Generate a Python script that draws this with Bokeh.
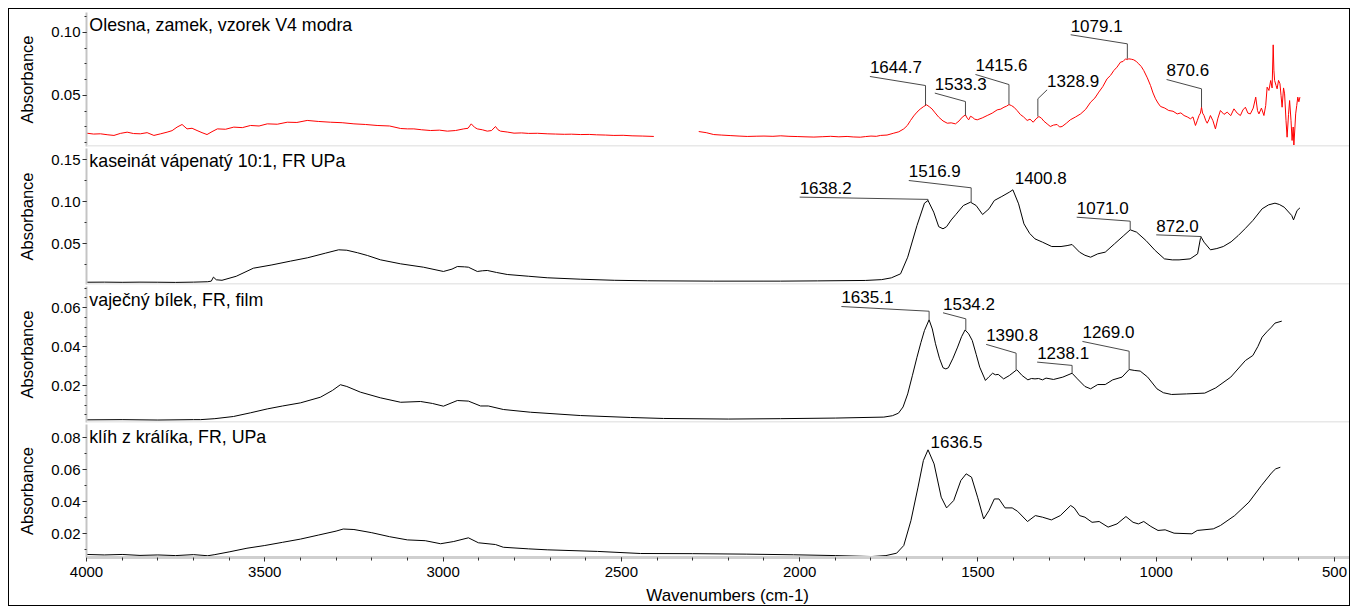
import numpy as np
from bokeh.plotting import figure
from bokeh.layouts import column
from bokeh.models import Range1d, FixedTicker, PrintfTickFormatter, Label, Span
from bokeh.embed import file_html
from bokeh.resources import INLINE

FONT = "Liberation Sans"
NaN = float("nan")

# ---------------- data (wavenumber cm-1, absorbance) ----------------
titles = ["Olesna, zamek, vzorek V4 modra",
          "kaseinát vápenatý 10:1, FR UPa",
          "vaječný bílek, FR, film",
          "klíh z králíka, FR, UPa"]

olesna = [(4000, 0.0201), (3980, 0.0194), (3961, 0.0196), (3940, 0.0188), (3923, 0.0183), (3905, 0.0199),
          (3886, 0.0209), (3868, 0.0198), (3849, 0.0196), (3830, 0.0205), (3811, 0.0183), (3792, 0.0196),
          (3774, 0.0209), (3760, 0.0221), (3746, 0.0249), (3732, 0.0270), (3718, 0.0235), (3704, 0.0240),
          (3690, 0.0222), (3676, 0.0205), (3662, 0.0190), (3648, 0.0213), (3633, 0.0235), (3610, 0.0232),
          (3587, 0.0249), (3563, 0.0245), (3540, 0.0262), (3516, 0.0258), (3493, 0.0275), (3465, 0.0272),
          (3437, 0.0288), (3410, 0.0286), (3381, 0.0302), (3350, 0.0294), (3316, 0.0288), (3283, 0.0284),
          (3250, 0.0275), (3218, 0.0270), (3185, 0.0262), (3150, 0.0258), (3119, 0.0238), (3100, 0.0235),
          (3082, 0.0235), (3060, 0.0228), (3035, 0.0222), (3010, 0.0225), (2988, 0.0217), (2965, 0.0222),
          (2942, 0.0235), (2930, 0.0240), (2921, 0.0275), (2912, 0.0248), (2904, 0.0235), (2890, 0.0228),
          (2876, 0.0217), (2864, 0.0222), (2853, 0.0254), (2846, 0.0228), (2839, 0.0217), (2820, 0.0210),
          (2801, 0.0201), (2780, 0.0203), (2760, 0.0199), (2735, 0.0200), (2708, 0.0196), (2685, 0.0194),
          (2660, 0.0192), (2640, 0.0193), (2614, 0.0190), (2590, 0.0191), (2570, 0.0188), (2545, 0.0186),
          (2521, 0.0183), (2495, 0.0184), (2470, 0.0180), (2440, 0.0178), (2409, 0.0175), (2350, NaN),
          (2283, 0.0214), (2262, 0.0205), (2241, 0.0190), (2220, 0.0186), (2195, 0.0182), (2170, 0.0178),
          (2147, 0.0175), (2120, 0.0177), (2100, 0.0178), (2075, 0.0176), (2053, 0.0180), (2030, 0.0176),
          (2005, 0.0174), (1985, 0.0172), (1960, 0.0170), (1935, 0.0173), (1913, 0.0176), (1890, 0.0172),
          (1867, 0.0175), (1850, 0.0171), (1830, 0.0169), (1815, 0.0174), (1800, 0.0178), (1785, 0.0176),
          (1773, 0.0183), (1755, 0.0186), (1736, 0.0201), (1722, 0.0212), (1708, 0.0235), (1698, 0.0262),
          (1689, 0.0302), (1680, 0.0338), (1671, 0.0368), (1662, 0.0392), (1652, 0.0413), (1644, 0.0426),
          (1636, 0.0410), (1629, 0.0394), (1620, 0.0362), (1610, 0.0328), (1598, 0.0298), (1586, 0.0280),
          (1575, 0.0283), (1563, 0.0275), (1553, 0.0298), (1544, 0.0328), (1535, 0.0346), (1530, 0.0320),
          (1526, 0.0307), (1521, 0.0335), (1516, 0.0328), (1509, 0.0312), (1502, 0.0307), (1488, 0.0322),
          (1474, 0.0341), (1460, 0.0360), (1446, 0.0386), (1436, 0.0392), (1427, 0.0407), (1420, 0.0415),
          (1413, 0.0428), (1406, 0.0420), (1399, 0.0407), (1390, 0.0380), (1381, 0.0349), (1372, 0.0330),
          (1362, 0.0302), (1354, 0.0312), (1345, 0.0288), (1337, 0.0315), (1329, 0.0333), (1322, 0.0320),
          (1315, 0.0296), (1306, 0.0275), (1297, 0.0254), (1288, 0.0265), (1278, 0.0270), (1271, 0.0250),
          (1264, 0.0254), (1252, 0.0280), (1241, 0.0307), (1226, 0.0330), (1212, 0.0354), (1198, 0.0390),
          (1184, 0.0447), (1172, 0.0480), (1161, 0.0527), (1150, 0.0570), (1138, 0.0632), (1128, 0.0660),
          (1119, 0.0698), (1110, 0.0725), (1100, 0.0765), (1093, 0.0770), (1086, 0.0791), (1081, 0.0785),
          (1077, 0.0791), (1070, 0.0788), (1063, 0.0783), (1056, 0.0770), (1049, 0.0751), (1042, 0.0730),
          (1035, 0.0698), (1025, 0.0640), (1016, 0.0579), (1009, 0.0520), (1002, 0.0474), (995, 0.0440),
          (988, 0.0413), (976, 0.0400), (965, 0.0381), (953, 0.0375), (941, 0.0354), (931, 0.0362),
          (922, 0.0341), (913, 0.0330), (904, 0.0315), (897, 0.0330), (890, 0.0262), (885, 0.0300),
          (880, 0.0341), (876, 0.0360), (873, 0.0407), (870, 0.0360), (866, 0.0341), (861, 0.0300),
          (857, 0.0280), (852, 0.0310), (848, 0.0341), (841, 0.0300), (834, 0.0235), (827, 0.0320),
          (820, 0.0381), (810, 0.0350), (801, 0.0368), (791, 0.0340), (782, 0.0394), (773, 0.0360),
          (764, 0.0341), (757, 0.0385), (750, 0.0407), (743, 0.0360), (736, 0.0354), (728, 0.0400),
          (721, 0.0487), (716, 0.0380), (712, 0.0354), (705, 0.0400), (698, 0.0341), (693, 0.0420),
          (689, 0.0566), (684, 0.0540), (679, 0.0619), (675, 0.0560), (672, 0.0902), (670, 0.0700),
          (668, 0.0619), (664, 0.0580), (661, 0.0553), (657, 0.0620), (653, 0.0593), (650, 0.0500),
          (647, 0.0407), (643, 0.0560), (640, 0.0513), (636, 0.0300), (633, 0.0169), (629, 0.0350),
          (626, 0.0460), (622, 0.0300), (619, 0.0143), (616, 0.0250), (614, 0.0103), (611, 0.0250),
          (609, 0.0354), (606, 0.0420), (603, 0.0487), (600, 0.0450), (597, 0.0487)]

kaseinat = [(4000, 0.0039), (3950, 0.0040), (3900, 0.0038), (3850, 0.0040), (3800, 0.0039), (3750, 0.0037),
            (3700, 0.0040), (3660, 0.0045), (3650, 0.0052), (3644, 0.0100), (3636, 0.0068), (3620, 0.0062),
            (3580, 0.0110), (3532, 0.0206), (3480, 0.0245), (3428, 0.0290), (3380, 0.0330), (3330, 0.0385),
            (3293, 0.0425), (3270, 0.0420), (3240, 0.0390), (3212, 0.0357), (3176, 0.0306), (3119, 0.0258),
            (3055, 0.0218), (2999, 0.0167), (2975, 0.0195), (2960, 0.0226), (2940, 0.0222), (2929, 0.0218),
            (2904, 0.0167), (2890, 0.0175), (2876, 0.0179), (2850, 0.0155), (2820, 0.0131), (2760, 0.0110),
            (2708, 0.0092), (2615, 0.0075), (2520, 0.0062), (2427, 0.0056), (2241, 0.0052), (2100, 0.0052),
            (2054, 0.0052), (1950, 0.0055), (1816, 0.0060), (1770, 0.0070), (1743, 0.0091), (1717, 0.0139),
            (1697, 0.0337), (1671, 0.0714), (1650, 0.0980), (1640, 0.1012), (1624, 0.0873), (1610, 0.0700),
            (1598, 0.0675), (1588, 0.0700), (1575, 0.0780), (1562, 0.0845), (1541, 0.0952), (1521, 0.0992),
            (1505, 0.0952), (1487, 0.0845), (1469, 0.0913), (1454, 0.1012), (1433, 0.1060), (1412, 0.1111),
            (1402, 0.1139), (1386, 0.0972), (1371, 0.0734), (1355, 0.0620), (1340, 0.0555), (1319, 0.0516),
            (1293, 0.0464), (1267, 0.0464), (1250, 0.0475), (1236, 0.0488), (1215, 0.0397), (1200, 0.0360),
            (1184, 0.0337), (1164, 0.0377), (1143, 0.0397), (1117, 0.0496), (1091, 0.0595), (1073, 0.0663),
            (1055, 0.0635), (1029, 0.0536), (1003, 0.0417), (977, 0.0317), (955, 0.0305), (936, 0.0305),
            (905, 0.0317), (884, 0.0377), (876, 0.0560), (874, 0.0575), (866, 0.0516), (848, 0.0425),
            (830, 0.0440), (812, 0.0464), (790, 0.0520), (770, 0.0595), (750, 0.0680), (729, 0.0774),
            (703, 0.0913), (685, 0.0960), (667, 0.0980), (655, 0.0965), (641, 0.0932), (620, 0.0833),
            (615, 0.0781), (605, 0.0893), (597, 0.0924)]

bilek = [(4000, 0.0024), (3900, 0.0025), (3800, 0.0023), (3700, 0.0025), (3680, 0.0025), (3640, 0.0030),
         (3588, 0.0041), (3540, 0.0060), (3493, 0.0080), (3450, 0.0095), (3400, 0.0111), (3344, 0.0140),
         (3310, 0.0175), (3288, 0.0204), (3270, 0.0195), (3232, 0.0166), (3176, 0.0137), (3119, 0.0114),
         (3063, 0.0118), (3030, 0.0108), (2999, 0.0094), (2960, 0.0123), (2929, 0.0120), (2895, 0.0095),
         (2873, 0.0095), (2831, 0.0077), (2755, 0.0063), (2615, 0.0046), (2474, 0.0036), (2382, 0.0031),
         (2200, 0.0028), (2054, 0.0030), (1900, 0.0033), (1764, 0.0038), (1740, 0.0045), (1723, 0.0058),
         (1710, 0.0090), (1697, 0.0157), (1684, 0.0250), (1671, 0.0345), (1660, 0.0420), (1650, 0.0482),
         (1637, 0.0537), (1628, 0.0490), (1619, 0.0414), (1608, 0.0340), (1598, 0.0291), (1590, 0.0285),
         (1583, 0.0291), (1570, 0.0340), (1557, 0.0397), (1546, 0.0450), (1536, 0.0485), (1526, 0.0465),
         (1516, 0.0431), (1505, 0.0360), (1495, 0.0294), (1479, 0.0226), (1469, 0.0245), (1459, 0.0263),
         (1451, 0.0255), (1443, 0.0257), (1428, 0.0234), (1412, 0.0251), (1391, 0.0281), (1376, 0.0251),
         (1360, 0.0229), (1350, 0.0236), (1340, 0.0234), (1330, 0.0236), (1319, 0.0229), (1309, 0.0238),
         (1288, 0.0231), (1262, 0.0243), (1236, 0.0263), (1221, 0.0234), (1200, 0.0195), (1184, 0.0183),
         (1164, 0.0205), (1143, 0.0205), (1122, 0.0229), (1096, 0.0243), (1076, 0.0282), (1060, 0.0277),
         (1045, 0.0274), (1024, 0.0243), (998, 0.0183), (980, 0.0163), (957, 0.0154), (915, 0.0157),
         (864, 0.0161), (833, 0.0188), (791, 0.0243), (750, 0.0328), (729, 0.0354), (715, 0.0400),
         (703, 0.0448), (690, 0.0475), (677, 0.0499), (667, 0.0520), (648, 0.0530)]

klih = [(4000, 0.0069), (3950, 0.0066), (3900, 0.0069), (3850, 0.0063), (3800, 0.0066), (3750, 0.0062),
        (3700, 0.0068), (3660, 0.0061), (3640, 0.0068), (3600, 0.0085), (3550, 0.0108), (3500, 0.0125),
        (3450, 0.0145), (3400, 0.0165), (3350, 0.0190), (3300, 0.0215), (3280, 0.0228), (3250, 0.0225),
        (3200, 0.0205), (3150, 0.0180), (3100, 0.0160), (3050, 0.0155), (3007, 0.0136), (2970, 0.0150),
        (2929, 0.0173), (2901, 0.0142), (2853, 0.0131), (2831, 0.0114), (2760, 0.0104), (2708, 0.0098),
        (2567, 0.0088), (2446, 0.0075), (2300, 0.0074), (2150, 0.0071), (2017, 0.0067), (1900, 0.0062),
        (1798, 0.0056), (1758, 0.0062), (1728, 0.0077), (1708, 0.0125), (1688, 0.0280), (1668, 0.0490),
        (1653, 0.0656), (1640, 0.0723), (1623, 0.0635), (1603, 0.0427), (1588, 0.0360), (1568, 0.0406),
        (1548, 0.0531), (1533, 0.0573), (1518, 0.0552), (1501, 0.0427), (1484, 0.0291), (1469, 0.0344),
        (1454, 0.0416), (1441, 0.0416), (1424, 0.0360), (1404, 0.0360), (1389, 0.0339), (1361, 0.0275),
        (1339, 0.0312), (1319, 0.0302), (1294, 0.0285), (1269, 0.0312), (1240, 0.0375), (1230, 0.0360),
        (1215, 0.0312), (1200, 0.0302), (1180, 0.0270), (1160, 0.0275), (1135, 0.0240), (1110, 0.0260),
        (1085, 0.0306), (1065, 0.0270), (1050, 0.0260), (1035, 0.0275), (1015, 0.0244), (995, 0.0219),
        (975, 0.0223), (950, 0.0202), (900, 0.0198), (885, 0.0219), (840, 0.0229), (820, 0.0250),
        (780, 0.0312), (740, 0.0396), (705, 0.0500), (675, 0.0583), (665, 0.0604), (652, 0.0614)]

# peak labels: (text, peak wavenumber, peak absorbance)
peaks_olesna = [("1644.7", 1647, 0.0421), ("1533.3", 1535, 0.0341), ("1415.6", 1413, 0.0429),
                ("1328.9", 1332, 0.0333), ("1079.1", 1081, 0.0791), ("870.6", 873, 0.0407)]
peaks_kaseinat = [("1638.2", 1640, 0.1005), ("1516.9", 1519, 0.0992), ("1400.8", 1402, 0.1139),
                  ("1071.0", 1073, 0.0663), ("872.0", 874, 0.0575)]
peaks_bilek = [("1635.1", 1637, 0.0537), ("1534.2", 1534, 0.0485), ("1390.8", 1393, 0.0281),
               ("1238.1", 1236, 0.0263), ("1269.0", 1076, 0.0282)]
peaks_klih = [("1636.5", 1640, 0.0723)]

x_ticks = [4000, 3500, 3000, 2500, 2000, 1500, 1000, 500]
x_title = "Wavenumbers (cm-1)"
y_title = "Absorbance"

# ---------------- label placement (text-left wn, text baseline, elbow) ----------------
lab_olesna = [(1803, 0.0651, 0.0579), (1621, 0.0519, 0.0452), (1507, 0.0667, 0.0587),
              (1306, 0.0545, 0.0474), (1240, 0.0982, 0.0910), (971, 0.0627, 0.0553)]
lab_kaseinat = [(2000, 0.1052, 0.1025), (1694, 0.1250, 0.1163), (1397, 0.1171, None),
                (1223, 0.0813, 0.0766), (1000, 0.0603, 0.0583)]
lab_bilek = [(1883, 0.0605, 0.0581), (1598, 0.0573, 0.0542), (1477, 0.0411, 0.0366),
             (1334, 0.0320, 0.0303), (1207, 0.0426, 0.0376)]
lab_klih = [(1633, 0.0713, None)]

x_range = Range1d(4000, 458)

panels = [
    dict(title=titles[0], data=olesna, color="#ff0000", yr=(0.00952, 0.11587), px=1260.0,
         ticks=[0.05, 0.10], minor=[0.0125 * k for k in range(1, 10)],
         peaks=peaks_olesna, labs=lab_olesna, h=138, top=3, bot=1),
    dict(title=titles[1], data=kaseinat, color="#000000", yr=(0.00119, 0.16310), px=840.0,
         ticks=[0.05, 0.10, 0.15], minor=[0.025 * k for k in range(1, 7)],
         peaks=peaks_kaseinat, labs=lab_kaseinat, h=138, top=1, bot=1),
    dict(title=titles[2], data=bilek, color="#000000", yr=(0.00103, 0.07077), px=1950.0,
         ticks=[0.02, 0.04, 0.06], minor=[0.005 * k for k in range(1, 15)],
         peaks=peaks_bilek, labs=lab_bilek, h=138, top=1, bot=1),
    dict(title=titles[3], data=klih, color="#000000", yr=(0.005, 0.08813), px=1600.0,
         ticks=[0.02, 0.04, 0.06, 0.08], minor=[0.01 * k for k in range(1, 9)],
         peaks=peaks_klih, labs=lab_klih, h=161, top=1, bot=27),
]

figs = []
for i, cfg in enumerate(panels):
    last = i == len(panels) - 1
    p = figure(width=1340, height=cfg["h"], x_range=x_range, y_range=Range1d(*cfg["yr"]),
               output_backend="svg", toolbar_location=None,
               min_border_left=77, min_border_right=0,
               min_border_top=cfg["top"], min_border_bottom=cfg["bot"],
               outline_line_color=None, background_fill_color="white", border_fill_color="white")
    p.grid.visible = False

    wn = np.array([d[0] for d in cfg["data"]], dtype=float)
    ab = np.array([d[1] for d in cfg["data"]], dtype=float)
    p.line(wn, ab, line_color=cfg["color"], line_width=1)

    # y axis
    ya = p.yaxis[0]
    ya.ticker = FixedTicker(ticks=cfg["ticks"], minor_ticks=cfg["minor"])
    ya.formatter = PrintfTickFormatter(format="%.2f")
    ya.axis_label = y_title
    ya.axis_label_text_font = FONT
    ya.axis_label_text_font_size = "16.5px"
    ya.axis_label_text_font_style = "normal"
    ya.axis_label_text_color = "#000000"
    ya.axis_label_standoff = 12
    ya.major_label_text_font = FONT
    ya.major_label_text_font_size = "15px"
    ya.major_label_text_color = "#000000"
    ya.major_label_standoff = 2
    ya.major_tick_out = 4
    ya.major_tick_in = 0
    ya.minor_tick_out = 2
    ya.minor_tick_in = 0
    ya.major_tick_line_color = "#303030"
    ya.minor_tick_line_color = "#303030"
    ya.axis_line_color = "#c4c4c4"
    ya.axis_line_width = 2

    xa = p.xaxis[0]
    if last:
        xa.ticker = FixedTicker(ticks=x_ticks, minor_ticks=list(range(500, 4001, 100)))
        xa.major_label_text_font = FONT
        xa.major_label_text_font_size = "15px"
        xa.major_label_text_color = "#000000"
        xa.major_label_standoff = 5
        xa.major_tick_out = 4
        xa.major_tick_in = 0
        xa.minor_tick_out = 3
        xa.minor_tick_in = 0
        xa.major_tick_line_color = "#303030"
        xa.minor_tick_line_color = "#303030"
        xa.axis_line_color = "#cfcfcf"
        xa.axis_line_width = 3
    else:
        xa.visible = False
        p.add_layout(Span(location=cfg["yr"][0], dimension="width",
                          line_color="#e8e8e8", line_width=3))

    # panel title
    p.add_layout(Label(x=3992, y=cfg["yr"][1] - 3.0 / cfg["px"], text=cfg["title"],
                       text_baseline="top", text_align="left", text_font=FONT,
                       text_font_size="17.8px", text_color="#000000"))

    # peak labels with leader lines
    for (txt, pwn, pab), (tx, ty, ey) in zip(cfg["peaks"], cfg["labs"]):
        if ey is not None:
            p.line([tx, pwn, pwn], [ty, ey, pab], line_color="#4a4a4a", line_width=1)
        p.add_layout(Label(x=tx, y=ty + 15.2 / cfg["px"], text=txt, text_baseline="top",
                           text_align="left", text_font=FONT, text_font_size="17px",
                           text_color="#000000"))
    figs.append(p)

# strip holding the x axis title, sharing the wavenumber range
t = figure(width=1340, height=21, x_range=x_range, y_range=Range1d(0, 21),
           output_backend="svg", toolbar_location=None,
           x_axis_location=None, y_axis_location=None,
           min_border_left=77, min_border_right=0, min_border_top=0, min_border_bottom=0,
           outline_line_color=None, background_fill_color="white", border_fill_color="white")
t.grid.visible = False
t.add_layout(Label(x=2202, y=10, text=x_title, text_baseline="middle", text_align="center",
                   text_font=FONT, text_font_size="17px", text_color="#000000"))
figs.append(t)

layout = column(*figs, spacing=0,
                styles={"border": "1px solid #000000", "margin-left": "8px", "margin-top": "8px"})

open("out.html", "w").write(file_html(layout, INLINE))
